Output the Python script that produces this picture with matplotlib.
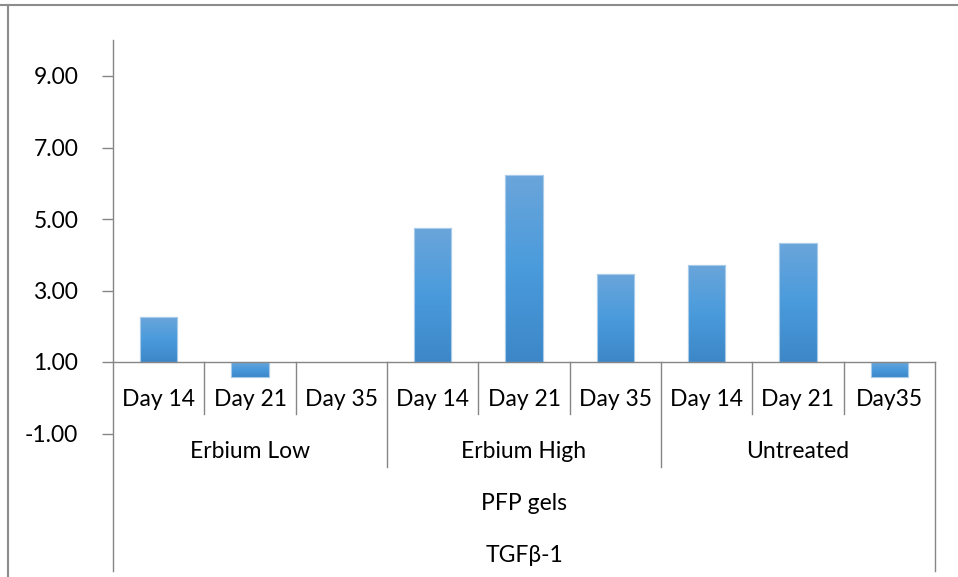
import numpy as np
import matplotlib
matplotlib.use("Agg")
import matplotlib.pyplot as plt
from matplotlib.colors import LinearSegmentedColormap

# TGF-beta1 expression, PFP gels, by treatment and day
groups = ["Erbium Low", "Erbium High", "Untreated"]
days = [["Day 14", "Day 21", "Day 35"],
        ["Day 14", "Day 21", "Day 35"],
        ["Day 14", "Day 21", "Day35"]]
values = [2.26, 0.58, 1.00,
          4.75, 6.23, 3.46,
          3.72, 4.33, 0.58]
yticks = [-1, 1, 3, 5, 7, 9]
level3 = "PFP gels"
level4 = "TGF\u03b2-1"

BASE = 1.0
AXIS = "#868686"
TXT = "#000000"
plt.rcParams["font.family"] = ["Lato", "DejaVu Sans"]
FS = 16.5

W, H = 958, 577
fig = plt.figure(figsize=(W / 100, H / 100), dpi=100)
ax_l, ax_r, ax_t, ax_b = 113, 935, 40, 571
ax = fig.add_axes([ax_l / W, 1 - ax_b / H, (ax_r - ax_l) / W, (ax_b - ax_t) / H])

# y scale: 1.00 sits at pixel row 362, 9.00 at row 76
ppu = (362 - 76) / 8.0
ymax = BASE + (362 - ax_t) / ppu
ymin = BASE - (ax_b - 362) / ppu
def py(row):
    return BASE - (row - 362) / ppu

n = len(values)
x = np.arange(n)

cmap = LinearSegmentedColormap.from_list("bar", ["#3d87c8", "#4a9bdc", "#6aa5da"])
grad = np.linspace(0, 1, 64).reshape(-1, 1)
bw = 0.41
for xi, v in zip(x, values):
    if v == BASE:
        continue
    lo, hi = min(v, BASE), max(v, BASE)
    bar = ax.bar(xi, v - BASE, bottom=BASE, width=bw, color="#4a95d6",
                 edgecolor="#a9cbea", linewidth=0.8, zorder=2)[0]
    im = ax.imshow(grad, cmap=cmap, aspect="auto", origin="lower",
                   extent=(xi - bw / 2, xi + bw / 2, lo, hi), zorder=2.5)
    im.set_clip_path(bar)
    ax.bar(xi, v - BASE, bottom=BASE, width=bw, facecolor="none",
           edgecolor="#a9cbea", linewidth=0.8, zorder=3)
ax.set_xlim(-0.5, n - 0.5)
ax.set_ylim(ymin, ymax)

# value axis
for s in ["top", "right", "bottom"]:
    ax.spines[s].set_visible(False)
ax.spines["left"].set_color(AXIS)
ax.spines["left"].set_linewidth(1.0)
ax.set_yticks(yticks)
ax.set_yticklabels([f"{t:.2f}" for t in yticks], fontsize=FS, color=TXT)
ax.tick_params(axis="y", length=8, width=1.0, color=AXIS, pad=17)
ax.set_xticks([])

# category axis at 1.00 with multi-level labels
ax.plot([-0.5, n - 0.5], [BASE, BASE], color=AXIS, lw=1.0, zorder=4, clip_on=False)
ax.plot([n - 0.5, n - 0.5], [ymin, BASE], color=AXIS, lw=1.0, clip_on=False)
for i in range(1, n):
    bottom = py(467) if i % 3 == 0 else py(414)
    ax.plot([i - 0.5, i - 0.5], [bottom, BASE], color=AXIS, lw=1.0, zorder=4)

labels = [d for g in days for d in g]
for xi, lab in zip(x, labels):
    ax.text(xi, py(399), lab, ha="center", va="center", fontsize=FS, color=TXT)
for gi, g in enumerate(groups):
    ax.text(gi * 3 + 1, py(452), g, ha="center", va="center", fontsize=FS, color=TXT)
ax.text((n - 1) / 2, py(504), level3, ha="center", va="center", fontsize=FS, color=TXT)
ax.text((n - 1) / 2, py(555), level4, ha="center", va="center", fontsize=FS, color=TXT)

# chart frame
fig.add_artist(plt.Line2D([0, 1], [1 - 4.5 / H, 1 - 4.5 / H], color="#8c8c8c", lw=1.5))
fig.add_artist(plt.Line2D([7.5 / W, 7.5 / W], [0, 1 - 4.5 / H], color="#8c8c8c", lw=1.5))

fig.savefig("out.png", dpi=100)
